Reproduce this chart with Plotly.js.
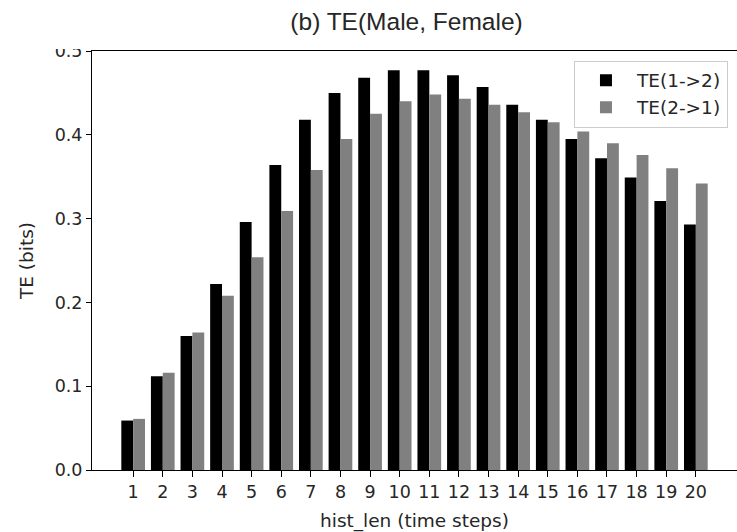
<!DOCTYPE html>
<html>
<head>
<meta charset="utf-8">
<script src="https://cdn.plot.ly/plotly-3.0.1.min.js"></script>
<style>html,body{margin:0;padding:0;background:#fff;}#chart{width:737px;height:532px;}</style>
</head>
<body>
<div id="chart"></div>
<script>
// Data
const histLen = [1,2,3,4,5,6,7,8,9,10,11,12,13,14,15,16,17,18,19,20];
const te12 = [0.059,0.112,0.160,0.222,0.296,0.364,0.418,0.450,0.468,0.477,0.477,0.471,0.457,0.436,0.418,0.395,0.372,0.349,0.321,0.293];
const te21 = [0.061,0.116,0.164,0.208,0.254,0.309,0.358,0.395,0.425,0.440,0.448,0.443,0.436,0.427,0.415,0.404,0.390,0.376,0.360,0.342];
const seriesNames = ['TE(1->2)', 'TE(2->1)'];
const yTicks = [0, 0.1, 0.2, 0.3, 0.4, 0.5];

const tickFont = {family: 'DejaVu Sans', size: 17.5, color: '#262626'};
const labelFont = {family: 'DejaVu Sans', size: 18.5, color: '#262626'};

const traces = [
  {type: 'bar', x: histLen, y: te12, name: seriesNames[0], legendgroup: 'a',
   marker: {color: '#000000', line: {width: 0}}},
  {type: 'bar', x: histLen, y: te21, name: seriesNames[1], legendgroup: 'b',
   marker: {color: '#808080', line: {width: 0}}}
];

const layout = {
  width: 737, height: 532,
  margin: {l: 92, r: 0, t: 51, b: 62, pad: 0},
  paper_bgcolor: '#ffffff', plot_bgcolor: '#ffffff',
  barmode: 'group', bargap: 0.2, bargroupgap: 0,
  showlegend: true,
  title: {
    text: '(b) TE(Male, Female)',
    font: {family: 'Liberation Sans', size: 24.5, color: '#262626'},
    xref: 'container', x: 0.5516, xanchor: 'center',
    yref: 'container', y: 1 - 21/532, yanchor: 'middle'
  },
  xaxis: {
    range: [-0.39, 21.39], tickmode: 'array', tickvals: histLen,
    ticktext: histLen.map(String),
    showline: true, linecolor: '#000000', linewidth: 1, mirror: true,
    ticks: 'outside', ticklen: 6, tickwidth: 1, tickcolor: '#000000',
    showgrid: false, zeroline: false, tickfont: tickFont,
    title: {text: 'hist_len (time steps)', font: labelFont, standoff: 15},
    automargin: false
  },
  yaxis: {
    range: [0, 0.5], tickmode: 'array', tickvals: yTicks,
    ticktext: yTicks.map(v => v.toFixed(1)),
    showline: true, linecolor: '#000000', linewidth: 1, mirror: false,
    ticks: 'outside', ticklen: 5, tickwidth: 1, tickcolor: '#000000',
    showgrid: false, zeroline: false, tickfont: tickFont,
    title: {text: 'TE (bits)', font: labelFont, standoff: 16},
    automargin: false
  },
  legend: {
    x: 0.986, xanchor: 'right', y: 0.977, yanchor: 'top',
    bgcolor: 'rgba(255,255,255,0.8)', bordercolor: '#cccccc', borderwidth: 1,
    font: labelFont, traceorder: 'grouped', tracegroupgap: 0, itemwidth: 52
  },
  shapes: [
    {type: 'rect', xref: 'paper', yref: 'paper', x0: -0.16, x1: -0.01, y0: 1.0045, y1: 1.08,
     fillcolor: '#ffffff', line: {width: 0}, layer: 'above'}
  ]
};

Plotly.newPlot('chart', traces, layout, {displayModeBar: false, staticPlot: true});
</script>
</body>
</html>
